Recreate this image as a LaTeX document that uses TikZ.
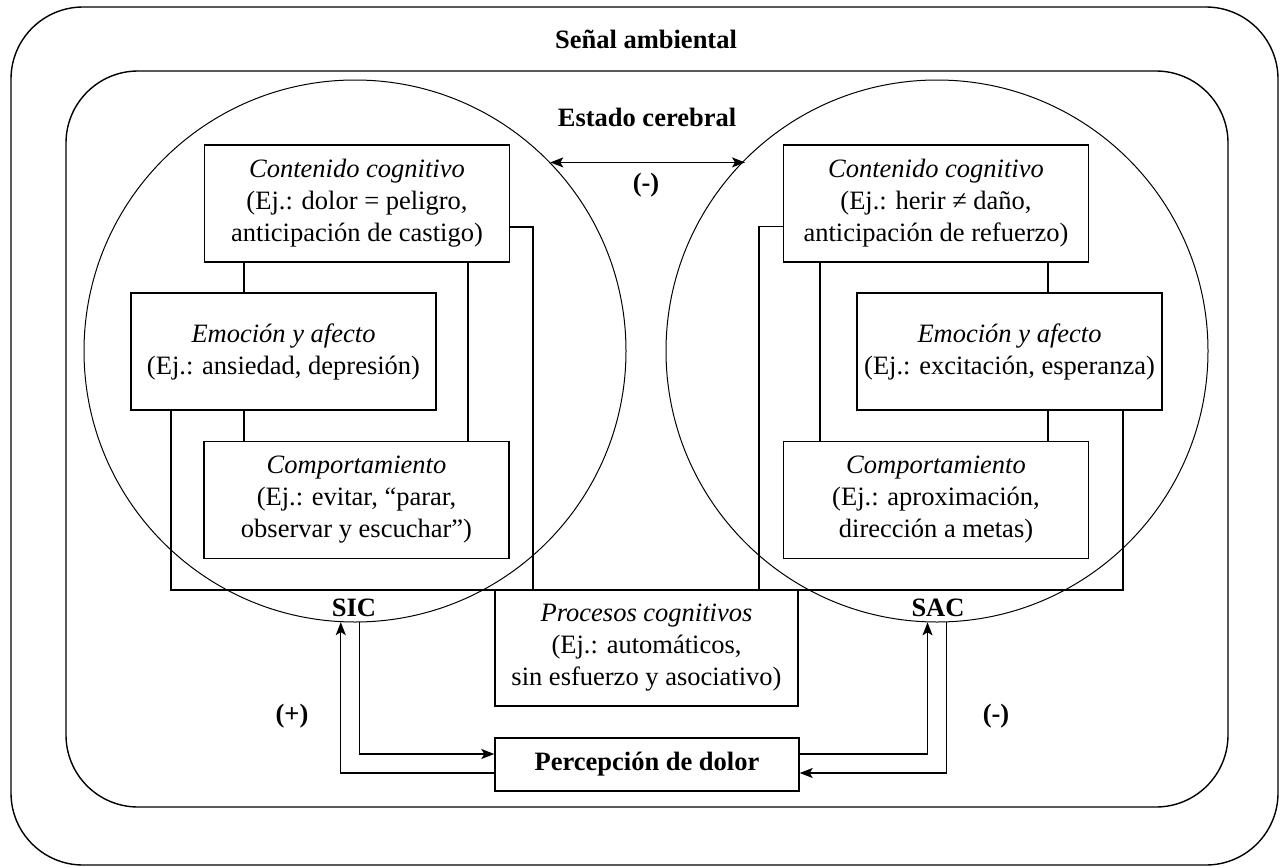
\documentclass[tikz,border=0pt]{standalone}
\usepackage{fontspec}
\setmainfont{Liberation Serif}
\usetikzlibrary{arrows.meta}
\begin{document}
\begin{tikzpicture}[x=0.5pt,y=-0.5pt,
  every node/.style={font=\fontsize{13.25pt}{16pt}\selectfont},
  box/.style={draw, line width=0.7pt, minimum width=152.5pt, minimum height=58.5pt, inner sep=0pt, align=center},
  circ/.style={draw, circle, line width=0.5pt, minimum size=271pt, inner sep=0pt},
  frame/.style={draw, rectangle, line width=0.7pt, rounded corners=36pt, inner sep=0pt},
  conn/.style={line width=0.7pt},
  arr/.style={conn, -{Stealth[length=6.5pt,width=5pt,inset=1.5pt]}},
  dbl/.style={conn, {Stealth[length=6.5pt,width=5pt,inset=1.5pt]}-{Stealth[length=6.5pt,width=5pt,inset=1.5pt]}},
  lbl/.style={font=\fontsize{13.25pt}{16pt}\selectfont\bfseries},
]
\useasboundingbox (0,0) rectangle (1281,868);

% frames
\node[frame, minimum width=633.5pt, minimum height=429pt] (outer) at (644.5,436) {};
\node[frame, minimum width=581pt, minimum height=368pt] (inner) at (647,439) {};
\node[lbl, anchor=base] (senal) at (646,48) {Señal ambiental};
\node[lbl, anchor=base] (estado) at (647,126) {Estado cerebral};

% circles
\node[circ] (L) at (355,351) {};
\node[circ] (R) at (937,351) {};
\node[lbl, anchor=base] (sic) at (354,616) {SIC};
\node[lbl, anchor=base] (sac) at (938,616) {SAC};

% left boxes
\node[box] (CL) at (357,203.5) {\textit{Contenido cognitivo}\\(Ej.: dolor = peligro,\\anticipación de castigo)};
\node[box] (EL) at (283.5,351.5) {\textit{Emoción y afecto}\\(Ej.: ansiedad, depresión)};
\node[box] (BL) at (356.5,500) {\textit{Comportamiento}\\(Ej.: evitar, “parar,\\observar y escuchar”)};

% right boxes
\node[box] (CR) at (936,203.5) {\textit{Contenido cognitivo}\\(Ej.: herir ≠ daño,\\anticipación de refuerzo)};
\node[box] (ER) at (1009.5,351.5) {\textit{Emoción y afecto}\\(Ej.: excitación, esperanza)};
\node[box] (BR) at (936,500) {\textit{Comportamiento}\\(Ej.: aproximación,\\dirección a metas)};

% bottom boxes
\node[box, minimum width=151.5pt, minimum height=58pt] (PC) at (646.5,648) {\textit{Procesos cognitivos}\\(Ej.: automáticos,\\sin esfuerzo y asociativo)};
\node[box, minimum width=152pt, minimum height=26.5pt, font=\fontsize{13.25pt}{16pt}\selectfont\bfseries] (PD) at (647,764.5) {Percepción de dolor};

% labels
\node[lbl] (menos1) at (646,185) {(-)};
\node[lbl] (mas) at (292,716) {(+)};
\node[lbl] (menos2) at (996,716) {(-)};

% left connectors
\draw[conn] (244,0 |- CL.south) -- (244,0 |- EL.north);
\draw[conn] (244,0 |- EL.south) -- (244,0 |- BL.north);
\draw[conn] (468,0 |- CL.south) -- (468,0 |- BL.north);
\draw[conn] (171,0 |- EL.south) |- (533,590) |- ([yshift=-11.75pt]CL.east);

% right connectors
\draw[conn] (1048,0 |- CR.south) -- (1048,0 |- ER.north);
\draw[conn] (1048,0 |- ER.south) -- (1048,0 |- BR.north);
\draw[conn] (820,0 |- CR.south) -- (820,0 |- BR.north);
\draw[conn] ([yshift=-11.5pt]CR.west) -| (759,590) -| (1123,0 |- ER.south);

% arrows
\draw[dbl] (L.44.52) -- (R.135.48 |- L.44.52);
\draw[arr] ([yshift=-4.25pt]PD.west) -| (L.267.46);
\draw[arr] (L.271.9) |- ([yshift=5.25pt]PD.west);
\draw[arr] ([yshift=5.25pt]PD.east) -| (R.268.1);
\draw[arr] (R.272.54) |- ([yshift=-4.25pt]PD.east);
\end{tikzpicture}
\end{document}
